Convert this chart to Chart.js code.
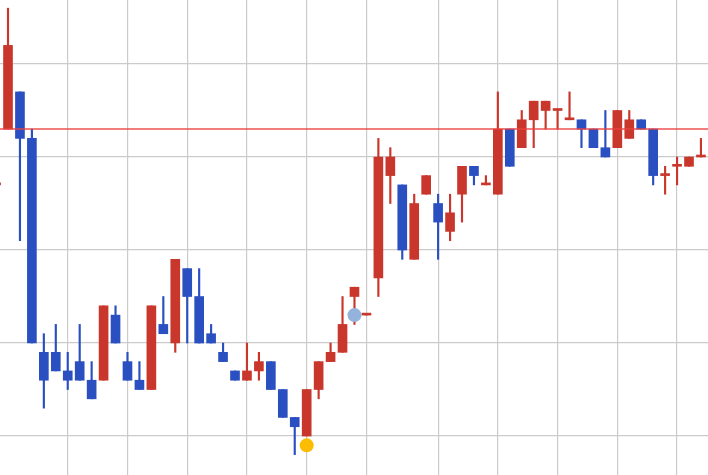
<!DOCTYPE html>
<html>
<head>
<meta charset="utf-8">
<script src="https://cdn.jsdelivr.net/npm/chart.js@4.4.1/dist/chart.umd.min.js"></script>
<style>
  html, body { margin: 0; padding: 0; background: #fff; }
  #wrap { position: relative; width: 708px; height: 475px; }
</style>
</head>
<body>
<div id="wrap"><canvas id="chart"></canvas></div>
<script>
// candles start one day left of the visible area (index -1)
const firstDay = -1;

const opens  = [127, 133, 137, 132, 109, 109, 107, 108, 106, 106, 113, 108, 106, 105, 112, 110, 118, 115, 111, 109,
                107, 106, 107, 108, 105, 102, 100, 105, 108, 109, 115, 113, 117, 128, 127, 119, 126, 125, 122, 126,
                129, 127, 126, 133, 131, 134, 135, 135, 134, 134, 133, 131, 131, 132, 134, 133, 128, 129, 129, 130, 130];
const highs  = [127, 146, 137, 133, 111, 112, 109, 112, 108, 114, 114, 109, 108, 114, 115, 119, 118, 118, 112, 110,
                107, 110, 109, 108, 105, 102, 105, 108, 110, 115, 116, 113, 132, 131, 127, 126, 128, 126, 126, 129,
                129, 128, 137, 133, 135, 136, 136, 135, 137, 134, 133, 135, 135, 135, 134, 133, 129, 130, 130, 132, 130];
const lows   = [127, 133, 121, 110, 103, 107, 105, 106, 104, 106, 110, 106, 105, 105, 111, 109, 110, 110, 110, 108,
                106, 106, 106, 105, 102,  98, 100, 104, 108, 109, 112, 113, 115, 125, 119, 119, 126, 119, 121, 123,
                127, 127, 126, 129, 131, 131, 133, 133, 134, 131, 131, 130, 131, 132, 133, 127, 126, 127, 129, 130, 130];
const closes = [127, 142, 132, 110, 106, 107, 106, 106, 104, 114, 110, 106, 105, 114, 111, 119, 115, 110, 110, 108,
                106, 107, 108, 105, 102, 101, 105, 108, 109, 112, 116, 113, 130, 130, 120, 125, 128, 123, 124, 129,
                128, 127, 133, 129, 134, 136, 136, 135, 134, 133, 131, 130, 135, 134, 133, 128, 128, 129, 130, 130, 130];

// vertical grid sits on these days, horizontal grid on these prices
const gridDays = [5, 10, 15, 20, 25, 30, 36, 41, 46, 51, 56];
const gridPrices = [100, 110, 120, 130, 140];

const refPrice = 133;
const lowMarker = [{ x: 25, y: 99 }];
const midMarker = [{ x: 29, y: 113 }];

const UP = "#c9372c";
const DOWN = "#2a4fc1";

const days = opens.map((_, i) => firstDay + i);
const colors = opens.map((o, i) => (closes[i] >= o ? UP : DOWN));

const gridStyle = { color: "#cbcbcb", lineWidth: 1.2, drawTicks: false, offset: false };

const ctx = document.getElementById("chart").getContext("2d");
new Chart(ctx, {
  type: "bar",
  data: {
    datasets: [
      {
        type: "line",
        data: [{ x: -2, y: refPrice }, { x: 61, y: refPrice }],
        borderColor: "rgba(236, 62, 62, 0.9)",
        borderWidth: 1.5,
        pointRadius: 0,
      },
      {
        type: "line",
        data: lowMarker,
        showLine: false,
        pointRadius: 7,
        backgroundColor: "#fbbc04",
        borderWidth: 0,
      },
      {
        type: "line",
        data: midMarker,
        showLine: false,
        pointRadius: 7,
        backgroundColor: "#93b3dc",
        borderWidth: 0,
      },
      {
        // bodies
        data: days.map((d, i) => ({ x: d, y: [opens[i], closes[i]] })),
        backgroundColor: colors,
        barThickness: 9,
        minBarLength: 2,
        grouped: false,
      },
      {
        // wicks
        data: days.map((d, i) => ({ x: d, y: [lows[i], highs[i]] })),
        backgroundColor: colors,
        barThickness: 1.5,
        grouped: false,
      },
    ],
  },
  options: {
    responsive: true,
    maintainAspectRatio: false,
    animation: false,
    layout: { padding: 0, autoPadding: false },
    plugins: {
      legend: { display: false },
      tooltip: { enabled: false },
    },
    scales: {
      x: {
        type: "linear",
        min: -0.67,
        max: 58.59,
        offset: false,
        afterBuildTicks: (axis) => {
          axis.ticks = gridDays.map((v) => ({ value: v }));
        },
        ticks: { display: false },
        grid: gridStyle,
        border: { display: false },
      },
      y: {
        min: 95.81,
        max: 146.88,
        afterBuildTicks: (axis) => {
          axis.ticks = gridPrices.map((v) => ({ value: v }));
        },
        ticks: { display: false },
        grid: gridStyle,
        border: { display: false },
      },
    },
  },
});
</script>
</body>
</html>
